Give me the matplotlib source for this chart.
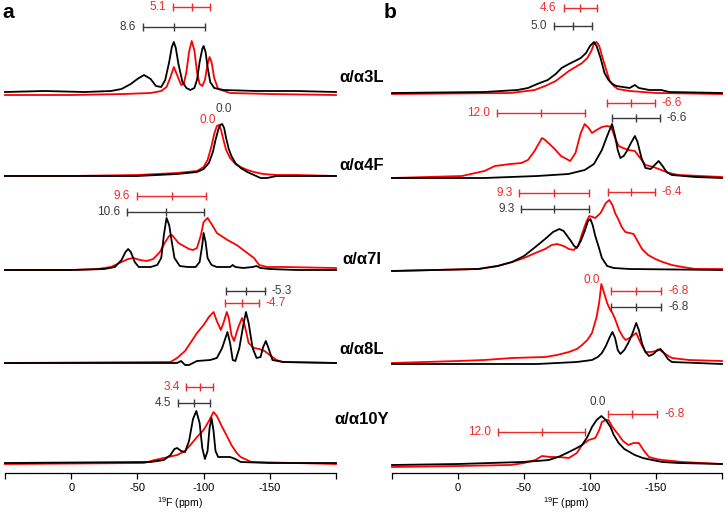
import matplotlib.pyplot as plt
import numpy as np

# ---------------- panel a spectra : ppm positions and height above baseline ----------------
a3l_k_ppm = [50, 20, -10, -30, -38, -45, -50, -55, -60, -64, -68, -71, -74, -76, -77.5, -79, -81, -84, -87, -90,
             -93, -95, -97, -99, -100, -101.5, -103, -105, -108, -115, -140, -170, -200]
a3l_k = [0, 1, 0, 1, 3, 8, 13, 17, 13, 6, 5, 12, 30, 45, 50, 44, 28, 10, 4, 2,
         4, 12, 30, 43, 46, 40, 25, 10, 4, 2, 1, 1, 0]
a3l_r_ppm = [50, 0, -40, -60, -68, -72, -75, -77.5, -80, -83, -85, -87, -89, -91, -93, -95, -97, -99, -101, -103,
             -104.5, -106, -108, -111, -120, -150, -200]
a3l_r = [-3, -3, -2, -1, 1, 5, 15, 25, 17, 7, 8, 20, 40, 51, 42, 20, 8, 6, 12, 28,
         35, 30, 14, 3, -1, -2, -3]

a4f_k_ppm = [50, 0, -50, -80, -95, -100, -104, -107, -109, -111, -112.5, -114, -115.5, -117, -119, -121, -124, -128,
             -133, -138, -143, -148, -155, -170, -200]
a4f_k = [0, 0, 0, 2, 4, 7, 13, 24, 36, 46, 51, 52, 48, 38, 27, 20, 13, 8, 4, 1, -2, -2, 0, 0, 0]
a4f_r_ppm = [50, 0, -50, -80, -95, -100, -103, -106, -108, -110, -111.5, -113, -115, -117, -120, -124, -128, -133,
             -138, -145, -155, -170, -200]
a4f_r = [0, 0, 1, 3, 5, 9, 16, 30, 42, 50, 51, 47, 36, 26, 18, 12, 9, 6, 4, 2, 1, 1, 0]

a7i_k_ppm = [50, 0, -25, -33, -38, -41, -43, -45, -48, -51, -55, -60, -65, -68, -70, -72, -74, -76, -78, -82,
             -88, -94, -97, -99, -100, -101.5, -103, -106, -110, -116, -120, -122, -124, -130, -137, -140, -143,
             -150, -170, -200]
a7i_k = [0, 0, 1, 3, 10, 18, 21, 18, 8, 3, 3, 3, 5, 12, 35, 52, 45, 28, 12, 4,
         3, 3, 8, 25, 37, 28, 12, 5, 3, 3, 3, 5, 3, 2, 3, 4, 2, 1, 0, 0]
a7i_r_ppm = [50, 0, -20, -30, -38, -43, -47, -52, -57, -62, -67, -71, -74, -76, -78, -81, -85, -89, -92, -95,
             -98, -100, -103, -106, -110, -118, -125, -130, -135, -138, -142, -148, -160, -200]
a7i_r = [0, 0, 1, 3, 8, 11, 12, 10, 9, 11, 18, 28, 34, 35, 32, 27, 24, 21, 20, 22,
         35, 48, 52, 46, 37, 30, 25, 20, 15, 12, 5, 3, 3, 2]

a8l_k_ppm = [50, -80, -83, -86, -89, -95, -105, -110, -114, -118, -120, -122, -124, -127, -130, -132, -134, -137,
             -140, -143, -145, -147, -149, -152, -160, -200]
a8l_k = [0, 0, 2, -2, -2, 2, 3, 5, 15, 31, 20, 3, 2, 15, 38, 51, 40, 15, 5, 6, 16, 22, 15, 3, 1, 0]
a8l_r_ppm = [50, -75, -80, -86, -90, -95, -100, -104, -107.5, -110, -113, -115, -117.5, -119, -121, -123, -126,
             -129, -131, -134, -138, -142, -146, -150, -155, -160, -200]
a8l_r = [0, 1, 5, 12, 20, 30, 38, 46, 51, 42, 33, 40, 51, 45, 28, 22, 35, 45, 38, 20, 15, 14, 12, 8, 3, 1, 0]

a10y_k_ppm = [50, -60, -70, -75, -78, -80, -83, -86, -89, -92, -94.5, -97, -99, -101, -103, -104.5, -106, -107.5,
              -109, -111, -120, -124, -128, -150, -200]
a10y_k = [0, 1, 3, 8, 14, 15, 12, 11, 22, 44, 52, 40, 15, 4, 12, 35, 45, 32, 12, 6, 6, 4, 1, 0, 0]
a10y_r_ppm = [50, -55, -63, -70, -80, -86, -90, -95, -100, -104, -107.5, -110, -114, -118, -121, -125, -128, -136,
              -200]
a10y_r = [-1, 0, 3, 5, 8, 12, 18, 26, 33, 42, 51, 47, 36, 26, 18, 10, 6, 1, -1]

# ---------------- panel b spectra ----------------
b3l_k_ppm = [50, -20, -45, -53, -60, -68, -74, -78.5, -84, -88.6, -93, -97, -100, -103, -105, -108, -111, -114,
             -117, -120, -125, -130, -134, -137, -145, -154, -160, -200]
b3l_k = [0, 1, 3, 5, 9, 13, 19, 25, 29, 32, 35, 40, 47, 51, 47, 35, 20, 13, 9, 7, 6, 5, 8, 5, 3, 3, 1, 0]
b3l_r_ppm = [50, -40, -58, -66, -74, -80, -84, -89, -94, -98, -101, -103, -105, -107, -110, -113, -115, -118, -121,
             -130, -150, -200]
b3l_r = [-1, 0, 3, 7, 12, 18, 22, 26, 30, 35, 42, 49, 51, 47, 33, 20, 12, 7, 4, 2, 0, -1]

b4f_k_ppm = [50, -20, -60, -83.6, -96, -103, -109, -113, -116.7, -119, -121, -123, -125.5, -128, -131, -134, -136,
             -139, -142, -146, -149, -152, -155, -158, -162, -180, -200]
b4f_k = [0, 0, 2, 4, 8, 14, 28, 42, 54, 42, 28, 20, 22, 27, 35, 42, 36, 20, 10, 9, 13, 17, 12, 6, 3, 1, 0]
b4f_r_ppm = [50, -3, -20, -28, -40, -48, -53, -58, -63.6, -66, -72.5, -78, -85, -89, -93, -96, -99, -101.5, -105,
             -109, -113, -116, -119, -121.7, -125, -129, -134, -138, -142, -148, -154, -160, -167, -200]
b4f_r = [0, 2, 7, 12, 14, 15, 18, 27, 40, 38, 30, 22, 17, 25, 45, 54, 50, 45, 48, 51,
         52, 51, 40, 32, 30, 28, 27, 20, 13, 11, 8, 5, 3, 1]

b7i_k_ppm = [50, -15.6, -30, -41, -50, -58.6, -66, -72, -76.8, -80, -85, -88, -90, -93, -96, -98.5, -100.3, -102,
             -104, -106.6, -109, -113, -118, -130, -200]
b7i_k = [0, 2, 5, 9, 15, 24, 32, 39, 42, 40, 31, 25, 23, 30, 40, 50, 52, 46, 35, 24, 13, 5, 3, 2, 1]
b7i_r_ppm = [50, -15, -30, -41, -50, -58.6, -66, -71, -75, -80, -84, -87.6, -91, -95, -97.5, -99.5, -102, -104,
             -108, -112, -114.6, -117, -119, -121.7, -124, -126.8, -130, -133, -136, -139.4, -144, -149.5, -155,
             -162, -170, -180, -200]
b7i_r = [0, 2, 5, 9, 13, 18, 22, 26, 27, 25, 22, 21, 25, 41, 50, 55, 54, 53, 58, 68,
         71, 66, 58, 51, 44, 39, 38, 37, 30, 22, 16, 12, 9, 6, 4, 2, 2]

b8l_k_ppm = [50, -60, -90, -101.5, -106, -109, -112, -115, -117, -119, -121, -123, -126, -129, -132, -135, -137,
             -139.5, -142, -144.7, -148, -151, -153.4, -156, -159, -162, -200]
b8l_k = [0, 0, 2, 4, 7, 11, 18, 27, 32, 26, 14, 10, 14, 21, 30, 41, 34, 20, 12, 8, 10, 14, 15, 11, 5, 2, 0]
b8l_r_ppm = [50, 0, -20, -41, -66, -75, -84, -90, -94, -98, -101.5, -105, -107, -108.6, -110, -113, -115, -117,
             -119, -122, -125, -127, -130, -133, -135, -138, -142, -146, -150, -153, -157, -162, -175, -200]
b8l_r = [1, 3, 4, 6, 7, 9, 12, 15, 19, 24, 31, 47, 62, 80, 74, 61, 55, 51, 45, 34,
         27, 24, 26, 29, 31, 22, 12, 12, 13, 14, 10, 6, 4, 3]

b10y_k_ppm = [50, 0, -48.5, -60, -68.7, -76, -84, -90, -94, -98, -101.5, -105, -108.6, -112, -115.5, -118, -121.7,
              -126, -134, -140, -147, -155, -167, -200]
b10y_k = [0, 1, 3, 4, 5, 8, 13, 17, 20, 28, 38, 45, 49, 45, 38, 30, 22, 16, 10, 7, 5, 3, 2, 1]
b10y_r_ppm = [50, 0, -40, -50, -58.6, -63.6, -70, -76, -84, -90, -94, -99, -104, -107, -109, -112, -114, -117,
              -121.7, -125, -129, -133, -137, -141, -144.7, -150, -155, -170, -200]
b10y_r = [-2, -1, 0, 2, 5, 9, 8, 8, 7, 12, 20, 25, 27, 35, 43, 45, 45, 38, 30, 24, 20, 22, 22, 14, 8, 6, 5, 3, 1]

row_labels = ['α/α3L', 'α/α4F', 'α/α7I', 'α/α8L', 'α/α10Y']
tick_vals = [50, 0, -50, -100, -150, -200]
tick_text = ['', '0', '-50', '-100', '-150', '']

# bracket annotations: (left, centre, right) in ppm, label, colour
a_bars = [(-77, -91, -105), (-54, -77.5, -101), (-49.6, -76, -101.5), (-42, -71.5, -100),
          (-117, -132, -146), (-116.5, -129, -141.5), (-87, -97, -107), (-81, -93, -105)]
a_bar_text = ['5.1', '8.6', '9.6', '10.6', '-5.3', '-4.7', '3.4', '4.5']
a_bar_col = ['r', 'k', 'r', 'k', 'k', 'r', 'r', 'k']
b_bars = [(-80, -92.8, -105.5), (-73, -87, -101.5), (-113, -131, -149), (-29.5, -62.6, -96),
          (-116.7, -134.5, -152.8), (-46.5, -73, -99), (-113.6, -131, -149), (-48, -73, -99.5),
          (-116, -135, -154), (-116, -135, -154), (-113.4, -132, -150.8), (-30, -63.6, -96.5)]
b_bar_text = ['4.6', '5.0', '-6.6', '12.0', '-6.6', '9.3', '-6.4', '9.3', '-6.8', '-6.8', '-6.8', '12.0']
b_bar_col = ['r', 'k', 'r', 'r', 'k', 'r', 'r', 'k', 'r', 'k', 'r', 'r']
a_zero_ppm = [-115, -103]
a_zero_col = ['k', 'r']
b_zero_ppm = [-101.5, -105.8]
b_zero_col = ['r', 'k']

plt.rcParams['font.family'] = ['Liberation Sans', 'DejaVu Sans']

H = 473                                         # axis line height in pixels from top
SPEC = {'r': '#ff0000', 'k': '#000000'}         # spectrum colours
ANNO = {'r': '#ee2b2b', 'k': '#3a3a3a'}         # annotation colours


def init_axes(fig, left, width):
    # One panel: only the ppm axis is visible, y is in pixel units
    ax = fig.add_axes([left / 725, (513 - H) / 513, width / 725, H / 513])
    ax.set_xlim(50, -200)
    ax.set_ylim(0, H)
    ax.patch.set_alpha(0)
    for s in ['top', 'left', 'right']:
        ax.spines[s].set_visible(False)
    ax.spines['bottom'].set_linewidth(0.9)
    ax.set_yticks([])
    ax.set_xticks(tick_vals)
    ax.set_xticklabels(tick_text)
    ax.tick_params(axis='x', length=4, width=0.9, labelsize=8, pad=3)
    ax.text(-82, -30, r'$^{\mathregular{19}}$F (ppm)', ha='center', va='center', fontsize=7.5)
    return ax


def plot_spectrum(ax, ppm, h, base, col):
    y = (H - base) + np.array(h, dtype=float)
    ax.plot(ppm, y, color=SPEC[col], lw=1.3, clip_on=False, solid_joinstyle='round')


def plot_bar(ax, xs, ypix, label, col):
    y = H - ypix
    ax.plot([xs[0], xs[2]], [y, y], color=ANNO[col], lw=1.0)
    ax.plot(xs, [y] * 3, ls='none', marker='|', ms=6, mew=1.0, color=ANNO[col])
    if label.startswith('-'):
        ax.annotate(label, xy=(xs[2], y), xytext=(5, 0), textcoords='offset points',
                    ha='left', va='center', fontsize=8.5, color=ANNO[col])
    else:
        ax.annotate(label, xy=(xs[0], y), xytext=(-5, 0), textcoords='offset points',
                    ha='right', va='center', fontsize=8.5, color=ANNO[col])


def main():
    fig = plt.figure(figsize=(7.25, 5.13), dpi=100)
    ax_a = init_axes(fig, 5, 331)
    ax_b = init_axes(fig, 392, 330)

    a_base = [92, 176, 270, 363, 463]
    b_base = [93, 178, 271, 364, 465]
    a_spec = [(a3l_r_ppm, a3l_r, a3l_k_ppm, a3l_k), (a4f_r_ppm, a4f_r, a4f_k_ppm, a4f_k),
              (a7i_r_ppm, a7i_r, a7i_k_ppm, a7i_k), (a8l_r_ppm, a8l_r, a8l_k_ppm, a8l_k),
              (a10y_r_ppm, a10y_r, a10y_k_ppm, a10y_k)]
    b_spec = [(b3l_r_ppm, b3l_r, b3l_k_ppm, b3l_k), (b4f_r_ppm, b4f_r, b4f_k_ppm, b4f_k),
              (b7i_r_ppm, b7i_r, b7i_k_ppm, b7i_k), (b8l_r_ppm, b8l_r, b8l_k_ppm, b8l_k),
              (b10y_r_ppm, b10y_r, b10y_k_ppm, b10y_k)]
    for ax, specs, bases in [(ax_a, a_spec, a_base), (ax_b, b_spec, b_base)]:
        for (rp, r, kp, k), base in zip(specs, bases):
            plot_spectrum(ax, rp, r, base, 'r')
            plot_spectrum(ax, kp, k, base, 'k')

    a_bar_y = [7, 27, 196, 212, 291, 303, 387, 403]
    b_bar_y = [8, 26, 103, 113, 118, 193, 192, 209, 291, 307, 414, 432]
    for xs, yp, lab, c in zip(a_bars, a_bar_y, a_bar_text, a_bar_col):
        plot_bar(ax_a, xs, yp, lab, c)
    for xs, yp, lab, c in zip(b_bars, b_bar_y, b_bar_text, b_bar_col):
        plot_bar(ax_b, xs, yp, lab, c)

    # "0.0" peak labels
    for x, yp, c in zip(a_zero_ppm, [109, 120], a_zero_col):
        ax_a.text(x, H - yp, '0.0', ha='center', va='center', fontsize=8.5, color=ANNO[c])
    for x, yp, c in zip(b_zero_ppm, [280, 402], b_zero_col):
        ax_b.text(x, H - yp, '0.0', ha='center', va='center', fontsize=8.5, color=ANNO[c])

    # row labels between the panels
    for lab, yc in zip(row_labels, [78, 165, 260, 350, 420]):
        fig.text(362 / 725, 1 - yc / 513, lab, ha='center', va='center', fontsize=12, fontweight='bold')

    fig.text(2 / 725, 1 - 18 / 513, 'a', fontsize=15, fontweight='bold', va='baseline')
    fig.text(384 / 725, 1 - 18 / 513, 'b', fontsize=15, fontweight='bold', va='baseline')

    fig.savefig('out.png', dpi=100)


if __name__ == "__main__":
    main()
